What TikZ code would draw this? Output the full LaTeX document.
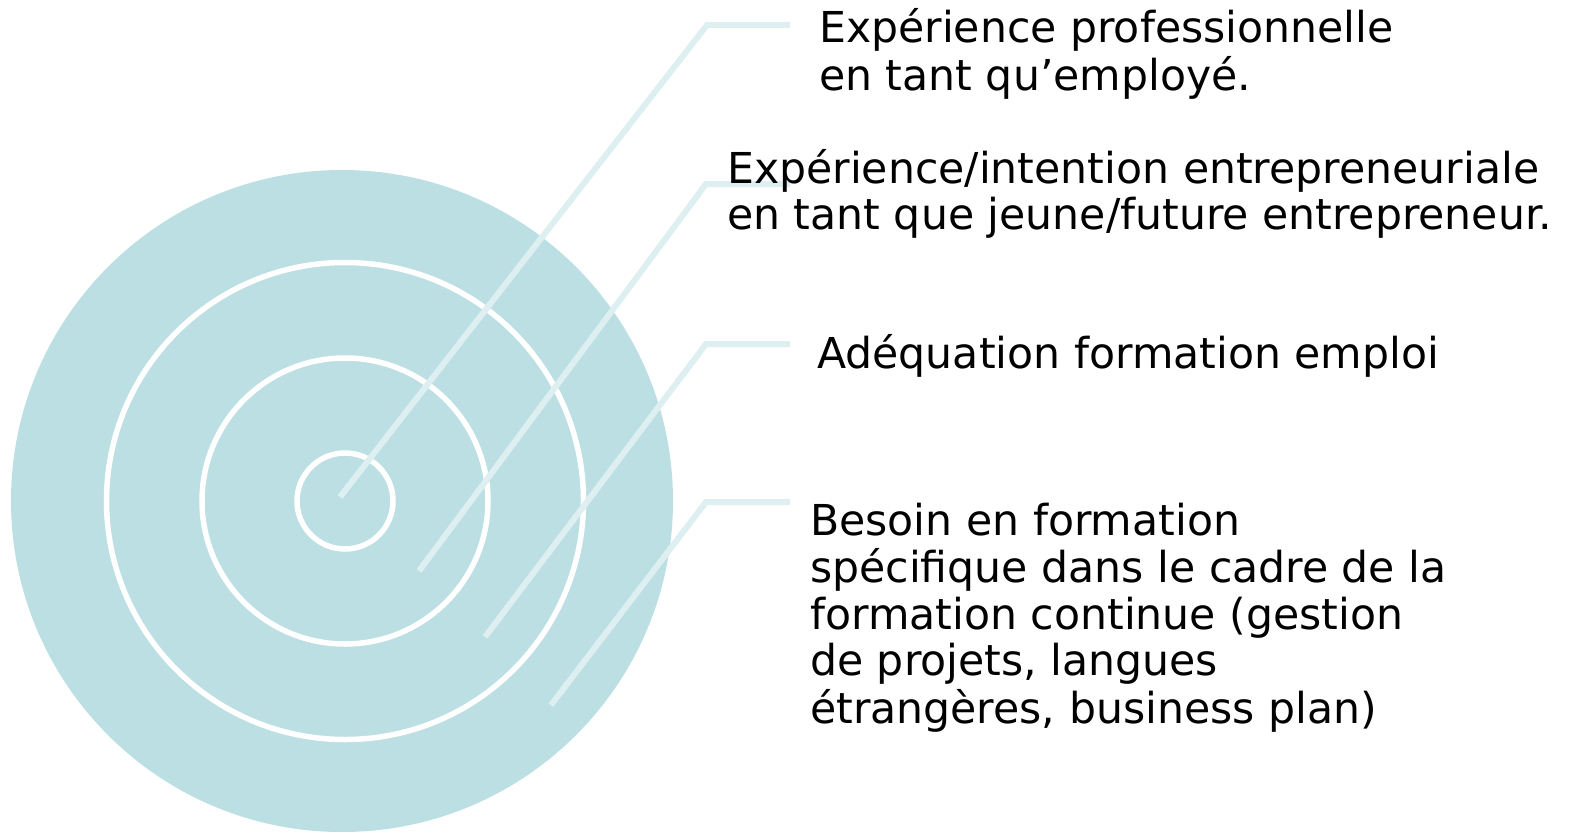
\documentclass[tikz,border=0pt]{standalone}
\usepackage{fontspec}
\setmainfont{DejaVu Sans}
\definecolor{ring}{RGB}{187,223,226}
\definecolor{leader}{RGB}{222,239,241}
\begin{document}
\begin{tikzpicture}[x=1pt,y=-1pt,
  leaderline/.style={draw=leader, line width=6pt},
  whitering/.style={circle, draw=white, line width=5.5pt, inner sep=0pt},
  lbl/.style={anchor=base west, inner sep=0pt, font=\fontsize{42.6}{46.2}\selectfont}]
\useasboundingbox (0,0) rectangle (1576,832);
\node[circle, fill=ring, inner sep=0pt, minimum size=662pt] (outer) at (342,501) {};
\node[whitering, minimum size=477pt] (r2) at (345,501) {};
\node[whitering, minimum size=286pt] (r3) at (345,501) {};
\node[whitering, minimum size=96pt] (r4) at (345,501) {};
\coordinate (e1) at (340,497); \coordinate (k1) at (707,25);  \coordinate (h1) at (790,25);
\coordinate (e2) at (419,571); \coordinate (k2) at (706,184); \coordinate (h2) at (790,184);
\coordinate (e3) at (485,637); \coordinate (k3) at (706,344); \coordinate (h3) at (790,344);
\coordinate (e4) at (551,705); \coordinate (k4) at (706,502); \coordinate (h4) at (790,502);
\draw[leaderline] (e1) -- (k1) -- (h1);
\draw[leaderline] (e2) -- (k2) -- (h2);
\draw[leaderline] (e3) -- (k3) -- (h3);
\draw[leaderline] (e4) -- (k4) -- (h4);
\node[lbl] (t1) at (819,43) {\begin{tabular}[t]{@{}l@{}}Expérience professionnelle\\en tant qu’employé.\end{tabular}};
\node[lbl] (t2) at (727,183) {\begin{tabular}[t]{@{}l@{}}Expérience/intention entrepreneuriale\\en tant que jeune/future entrepreneur.\end{tabular}};
\node[lbl] (t3) at (817,368) {Adéquation formation emploi};
\node[lbl] (t4) at (810,535) {\begin{tabular}[t]{@{}l@{}}Besoin en formation\\spécifique dans le cadre de la\\formation continue (gestion\\de projets, langues\\étrangères, business plan)\end{tabular}};
\end{tikzpicture}
\end{document}
